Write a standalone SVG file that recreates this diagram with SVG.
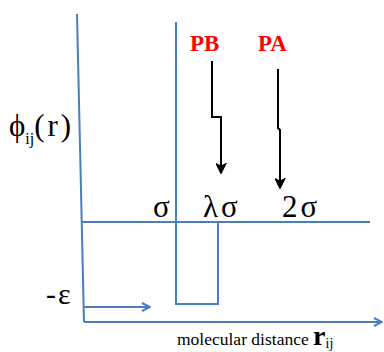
<svg xmlns="http://www.w3.org/2000/svg" width="384" height="352" viewBox="0 0 384 352">
<defs>
<style>
.ax{stroke:#4a7ebf;stroke-width:2;fill:none}
.bk{stroke:#000;stroke-width:2;fill:none}
text{font-family:'Liberation Serif','Times New Roman','DejaVu Serif',serif}
.t{fill:#000}
.red{font-weight:bold;fill:#ff0000;font-size:23px}
</style>
<marker id="ab" viewBox="0 0 10 10" refX="9" refY="5" markerWidth="10" markerHeight="10" markerUnits="userSpaceOnUse" orient="auto">
<path d="M1,1 L9,5 L1,9" fill="none" stroke="#4a7ebf" stroke-width="2"/>
</marker>
<marker id="ak" viewBox="0 0 10 10" refX="9" refY="5" markerWidth="11" markerHeight="11" markerUnits="userSpaceOnUse" orient="auto">
<path d="M1,1 L9,5 L1,9 L3,5 Z" fill="#000" stroke="#000" stroke-width="1.5"/>
</marker>
</defs>
<rect width="384" height="352" fill="#fff"/>
<g id="connectors">
<line class="ax" x1="77" y1="14" x2="84" y2="322"/>
<line class="ax" x1="84" y1="322" x2="382" y2="322" marker-end="url(#ab)"/>
<line class="ax" x1="84" y1="307" x2="150" y2="307" marker-end="url(#ab)"/>
<line class="ax" x1="82" y1="222" x2="370" y2="222"/>
<polyline class="ax" points="176,22 176,304 218,304 218,222"/>
<polyline class="bk" points="212,61 212,117 221,117 221,173" marker-end="url(#ak)"/>
<polyline class="bk" points="278,69 278,128 280,130 280,188" marker-end="url(#ak)"/>
</g>
<g id="labels">
<text class="red" x="190" y="51" font-family="Liberation Serif, serif">PB</text>
<text class="red" x="258" y="51" font-family="Liberation Serif, serif">PA</text>
<text class="t" x="9" y="136" font-size="31" font-family="Liberation Serif, serif">ϕ<tspan font-size="16" dy="8">ij</tspan><tspan dy="-8" letter-spacing="3">(r)</tspan></text>
<text class="t" x="153" y="217" font-size="31" font-family="Liberation Serif, serif">σ</text>
<text class="t" x="203" y="217" font-size="31" font-family="Liberation Serif, serif" letter-spacing="3">λσ</text>
<text class="t" x="282" y="217" font-size="31" font-family="Liberation Serif, serif" letter-spacing="3">2σ</text>
<text class="t" x="46" y="304" font-size="30" font-family="Liberation Serif, serif" letter-spacing="2">-ε</text>
<text class="t" x="177" y="345" font-size="17.5" font-family="Liberation Serif, serif">molecular distance <tspan font-size="28" font-weight="bold">r</tspan><tspan font-size="14" dy="3">ij</tspan></text>
</g>
</svg>
